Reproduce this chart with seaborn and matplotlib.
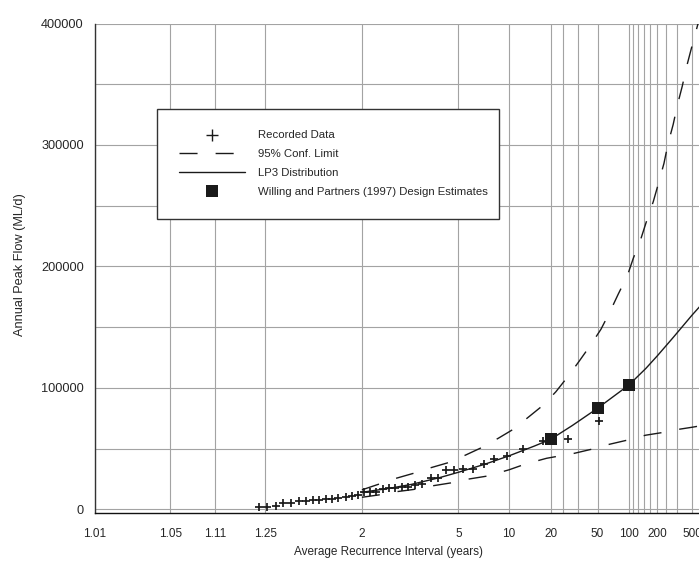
import math
from statistics import NormalDist

import numpy as np
import matplotlib
matplotlib.use('Agg')
import matplotlib.pyplot as plt
from matplotlib.lines import Line2D
from matplotlib.patches import Rectangle
from matplotlib.ticker import FixedLocator, FixedFormatter, NullFormatter
import seaborn as sns

sns.set_style('white')
plt.rcParams['font.family'] = ['Liberation Sans', 'DejaVu Sans']

# Recorded annual peaks: average recurrence interval (years) and flow (ML/d)
rec_ari = [1.227, 1.257, 1.292, 1.327, 1.367, 1.413, 1.457, 1.501, 1.550, 1.607,
           1.660, 1.718, 1.797, 1.873, 1.949, 2.031, 2.121, 2.218, 2.343, 2.461,
           2.589, 2.742, 2.910, 3.110, 3.333, 3.659, 3.925, 4.318, 4.739, 5.258,
           6.010, 6.964, 8.05, 9.76, 12.55, 17.4, 27.8, 51.8]
rec_flow = [1650, 2140, 2960, 4780, 5430, 6590, 7080, 7250, 7410, 8480,
            8730, 9060, 10130, 10540, 11530, 14250, 14250, 14250, 16710, 17130,
            17540, 18110, 18770, 19600, 20420, 25360, 25770, 31950, 32360, 33180,
            33590, 36890, 41660, 43640, 49650, 55990, 57640, 72950]

# LP3 fitted distribution
lp3_ari = [2, 2.5, 3, 4, 5, 7, 10, 15, 20, 30, 50, 100, 150, 200, 300, 500, 700]
lp3_flow = [14000, 17500, 20500, 26000, 30500, 37000, 44000, 52000, 57600, 69000,
            83200, 102300, 116000, 126500, 141500, 160000, 171000]

# 95% confidence limits
upper_ari = [2, 2.26, 2.61, 3.06, 3.66, 4.43, 5.47, 6.6, 8.53, 10.7, 13.6, 17.6,
             22, 27.8, 34.4, 43.3, 53.7, 65.3, 78.6, 96.4, 111, 133, 153, 180,
             206, 236, 260, 300, 333, 382, 429, 493, 600]
upper_flow = [16000, 20600, 25500, 29600, 34300, 38400, 44700, 50200, 58500, 65900,
              75800, 85900, 96800, 109800, 122100, 135300, 148200, 162700, 177300,
              192100, 206700, 222800, 237600, 253300, 268900, 284900, 300000,
              317000, 332100, 348500, 364400, 380400, 402000]
lower_ari = [2, 2.26, 2.62, 3.06, 3.68, 4.55, 5.57, 7.23, 10, 13, 18.6, 22.6, 31.2,
             44.8, 64.3, 94.7, 149, 231, 343, 493, 600]
lower_flow = [9900, 11800, 14500, 16300, 19200, 21700, 24700, 27300, 32500, 37300,
              42000, 43600, 46100, 49600, 53500, 56800, 61000, 63300, 65800, 67500,
              68500]

# Willing and Partners (1997) design estimates
design_ari = [20, 50, 100]
design_flow = [57600, 83200, 102300]

major_ticks = [1.01, 1.05, 1.111, 1.25, 2, 5, 10, 20, 50, 100, 200, 500]
major_labels = ['1.01', '1.05', '1.11', '1.25', '2', '5', '10', '20', '50', '100', '200', '500']
minor_ticks = [25, 33.33, 111.1, 125, 142.9, 166.7, 250, 333.3]

ink = '#1a1a1a'
text_col = '#262626'
nd = NormalDist()


# normal probability scale for the recurrence interval axis
def ari_to_z(t):
    t = np.atleast_1d(np.asarray(t, dtype=float))
    out = np.full(t.shape, np.nan)
    ok = np.isfinite(t) & (t > 1)
    p = np.clip(1 - 1 / t[ok], 1e-12, 1 - 1e-12)
    out[ok] = [nd.inv_cdf(v) for v in p]
    return out


def z_to_ari(z):
    z = np.asarray(z, dtype=float)
    tail = 0.5 * np.vectorize(math.erfc, otypes=[float])(z / math.sqrt(2))
    with np.errstate(divide='ignore'):
        return 1 / tail


W, H = 699, 562
fig = plt.figure(figsize=(6.99, 5.62), dpi=100)
ax = fig.add_axes([94.5 / W, 49.3 / H, 622 / W, 489.2 / H])

dash = (0, (13, 13))
sns.lineplot(x=upper_ari, y=upper_flow, ax=ax, color=ink, lw=1.0, linestyle=dash,
             estimator=None, sort=False)
sns.lineplot(x=lower_ari, y=lower_flow, ax=ax, color=ink, lw=1.0, linestyle=dash,
             estimator=None, sort=False)
sns.lineplot(x=lp3_ari, y=lp3_flow, ax=ax, color=ink, lw=1.0,
             estimator=None, sort=False)
sns.scatterplot(x=rec_ari, y=rec_flow, ax=ax, marker='+', s=30, color=ink,
                linewidth=1.25, zorder=3)
sns.scatterplot(x=design_ari, y=design_flow, ax=ax, marker='s', s=75, color=ink,
                edgecolor='none', zorder=4)

ax.set_xscale('function', functions=(ari_to_z, z_to_ari))
ax.set_xlim(1.01, 1000)
ax.set_ylim(-2800, 400000)

ax.xaxis.set_major_locator(FixedLocator(major_ticks))
ax.xaxis.set_major_formatter(FixedFormatter(major_labels))
ax.xaxis.set_minor_locator(FixedLocator(minor_ticks))
ax.xaxis.set_minor_formatter(NullFormatter())
ax.set_yticks(range(0, 400001, 100000))
ax.set_yticklabels([str(v) for v in range(0, 400001, 100000)])
ax.set_yticks(range(50000, 400000, 100000), minor=True)

ax.grid(True, which='both', color='#a3a3a3', lw=0.8)
ax.set_axisbelow(True)
for s in ['top', 'right']:
    ax.spines[s].set_visible(False)
ax.spines['left'].set_color('#333333')
ax.spines['left'].set_linewidth(1.0)
ax.spines['bottom'].set_color('#111111')
ax.spines['bottom'].set_linewidth(1.0)

ax.tick_params(which='both', direction='out', length=5.2, width=0.8, color='#555555',
               labelsize=8.5, labelcolor=text_col)
ax.tick_params(axis='x', which='both', pad=6)
ax.tick_params(axis='y', which='both', pad=2.5, labelsize=9.2)

fig.text(389 / W, 1 - 552 / H, 'Average Recurrence Interval (years)',
         ha='center', va='center', fontsize=8.5, color=text_col)
fig.text(20 / W, 1 - 265 / H, 'Annual Peak Flow (ML/d)', rotation=90,
         ha='center', va='center', fontsize=9.2, color=text_col)

# legend box drawn separately so its size matches the original
fig.patches.append(Rectangle((157 / W, 1 - 219 / H), 342 / W, 110 / H,
                             transform=fig.transFigure, facecolor='white',
                             edgecolor='#333333', lw=1.0, zorder=5))
handles = [
    Line2D([], [], ls='none', marker='+', ms=9, mew=1.0, color=ink),
    Line2D([], [], ls=dash, lw=1.0, color=ink),
    Line2D([], [], ls='-', lw=1.0, color=ink),
    Line2D([], [], ls='none', marker='s', ms=8.6, mew=0, color=ink),
]
labels = ['Recorded Data', '95% Conf. Limit', 'LP3 Distribution',
          'Willing and Partners (1997) Design Estimates']
leg = fig.legend(handles, labels, loc='upper left',
                 bbox_to_anchor=(179 / W, 1 - 130.5 / H), bbox_transform=fig.transFigure,
                 fontsize=8.2, handlelength=5.8, handletextpad=1.1, labelspacing=0.77,
                 borderpad=0, frameon=False, borderaxespad=0)
leg.set_zorder(6)
for t in leg.get_texts():
    t.set_color(text_col)

fig.savefig('out.png', dpi=100)
